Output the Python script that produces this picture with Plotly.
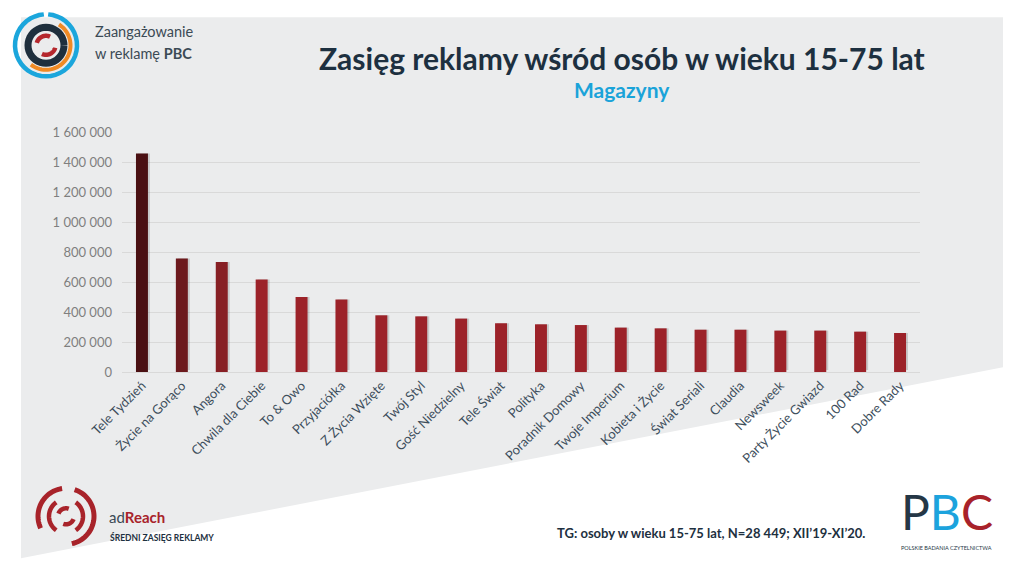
import math
import plotly.graph_objects as go

# ---------------- data ----------------
categories = ["Tele Tydzień", "Życie na Gorąco", "Angora", "Chwila dla Ciebie", "To & Owo",
              "Przyjaciółka", "Z Życia Wzięte", "Twój Styl", "Gość Niedzielny", "Tele Świat",
              "Polityka", "Poradnik Domowy", "Twoje Imperium", "Kobieta i Życie", "Świat Seriali",
              "Claudia", "Newsweek", "Party Życie Gwiazd", "100 Rad", "Dobre Rady"]
reach = [1456000, 756000, 733000, 616000, 500000,
         483000, 378000, 371000, 356000, 325000,
         318000, 313000, 296000, 291000, 282000,
         282000, 276000, 276000, 269000, 260000]
bar_colors = ["#4a1013", "#6c191d", "#871f24"] + ["#9c2229"] * 17
y_ticks = [0, 200000, 400000, 600000, 800000, 1000000, 1200000, 1400000, 1600000]

# ---------------- geometry helpers ----------------
W, H = 1024, 576
L, R, T, B = 122, 920, 131.7, 371.7

def px(x):
    return (x - L) / (R - L)

def py(y):
    return (B - y) / (B - T)

def arc_path(cx, cy, r, a0, a1, n=40):
    pts = []
    for i in range(n + 1):
        a = math.radians(a0 + (a1 - a0) * i / n)
        x = cx + r * math.cos(a)
        y = cy - r * math.sin(a)
        pts.append(f"{px(x):.5f},{py(y):.5f}")
    return "M " + " L ".join(pts)

def arc_shape(cx, cy, r, a0, a1, color, width):
    return dict(type="path", xref="paper", yref="paper", path=arc_path(cx, cy, r, a0, a1),
                line=dict(color=color, width=width), layer="above")

fig = go.Figure()

# bar shadow
shadow_shift = 13000
fig.add_trace(go.Bar(
    x=categories, y=[v - shadow_shift for v in reach], base=[shadow_shift] * len(reach),
    marker=dict(color="rgba(60,60,60,0.2)", line=dict(width=0)),
    width=0.3, offset=-0.1, hoverinfo="skip", showlegend=False))
# bars
fig.add_trace(go.Bar(
    x=categories, y=reach,
    marker=dict(color=bar_colors, line=dict(width=0)),
    width=0.3, offset=-0.15, showlegend=False))

shapes = []
# grey slide panel
poly = [(21, 17), (1003, 17), (1003, 367), (21, 558)]
shapes.append(dict(type="path", xref="paper", yref="paper",
                   path="M " + " L ".join(f"{px(x):.5f},{py(y):.5f}" for x, y in poly) + " Z",
                   fillcolor="#ebeced", line=dict(width=0), layer="below"))

# top-left logo
cx, cy = 46, 45
shapes.append(arc_shape(cx, cy, 31, 94, 86 + 360, "#1ba6dc", 4.5))
shapes.append(arc_shape(cx, cy, 18, 0, 360, "#1f2f3d", 7))
shapes.append(arc_shape(cx, cy, 24.5, 58, -128, "#f08a24", 4))
shapes.append(arc_shape(cx, cy, 9.5, 65, 165, "#b5272d", 4.5))
shapes.append(arc_shape(cx, cy, 9.5, 245, 345, "#b5272d", 4.5))

# adReach logo
ax_, ay_ = 66, 516
red = "#a8232a"
shapes.append(arc_shape(ax_, ay_, 28, 98, 205, red, 5))
shapes.append(arc_shape(ax_, ay_, 28, -78, 72, red, 5))
shapes.append(arc_shape(ax_, ay_, 17, 125, 235, red, 4.5))
shapes.append(arc_shape(ax_, ay_, 17, -55, 55, red, 4.5))
shapes.append(arc_shape(ax_, ay_, 8, 70, 160, red, 4.5))
shapes.append(arc_shape(ax_, ay_, 8, 250, 340, red, 4.5))

annotations = []

def ann(text, x, y, size, color, xanchor="left", family="Lato", yanchor="middle", **kw):
    annotations.append(dict(text=text, x=px(x), y=py(y), xref="paper", yref="paper",
                            xanchor=xanchor, yanchor=yanchor, showarrow=False,
                            font=dict(family=family, size=size, color=color), **kw))

ann("Zaangażowanie", 93, 31, 14.5, "#3b4a55")
ann("w reklamę <b>PBC</b>", 93, 53, 14.5, "#3b4a55")
ann("<b>Zasięg reklamy wśród osób w wieku 15-75 lat</b>", 622, 58, 30, "#1d3040", "center")
ann("<b>Magazyny</b>", 622, 89, 21, "#1aa3d9", "center")
ann("ad<b><span style='color:#a8232a'>Reach</span></b>", 107, 517, 15, "#3b4a55")
ann("<b>ŚREDNI ZASIĘG REKLAMY</b>", 108, 537, 8.5, "#1d3040")
ann("<b>TG: osoby w wieku 15-75 lat, N=28 449; XII’19-XI’20.</b>", 555, 533, 13, "#1d3040")
# PBC logo
ann("P<span style='color:#1ca3dd'>B</span><span style='color:#a8222a'>C</span>",
    947, 511, 48, "#253746", "center", family="Lato", height=38, valign="middle")
ann("POLSKIE BADANIA CZYTELNICTWA", 947, 548, 5.5, "#253746", "center")

fig.update_layout(
    width=W, height=H,
    margin=dict(l=L, r=W - R, t=T, b=H - B, pad=0),
    paper_bgcolor="white", plot_bgcolor="rgba(0,0,0,0)",
    barmode="overlay",
    separators=", ",
    showlegend=False,
    shapes=shapes,
    annotations=annotations,
    xaxis=dict(tickangle=-45, tickfont=dict(family="Lato", size=13, color="#3d4e5c"),
               showgrid=False, showline=True, linecolor="#d9d9d9", linewidth=1,
               ticks="", fixedrange=True),
    yaxis=dict(range=[0, 1600000], tickvals=y_ticks, tickformat=",d",
               tickfont=dict(family="Lato", size=13, color="#7f7f7f"),
               showgrid=True, gridcolor="#d9d9d9", gridwidth=1,
               zeroline=True, zerolinecolor="#d9d9d9", zerolinewidth=1,
               showline=False, ticks="", ticklabelstandoff=9),
)

fig.write_html("out.html")
